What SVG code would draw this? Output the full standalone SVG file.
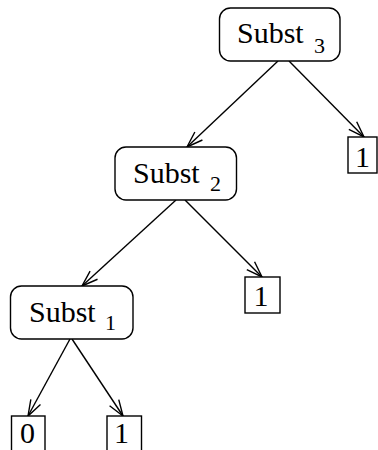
<svg xmlns="http://www.w3.org/2000/svg" width="378" height="450" viewBox="0 0 378 450">
<style>
.node{fill:#fff;stroke:#000;stroke-width:1.4}
.t{font-family:"Liberation Serif","Times New Roman",serif;font-size:30px;fill:#000}
.s{font-family:"Liberation Serif","Times New Roman",serif;font-size:22px;fill:#000}
.e{stroke:#000;stroke-width:1.4;fill:none;marker-end:url(#ah)}
</style>
<defs>
<marker id="ah" markerUnits="userSpaceOnUse" markerWidth="20" markerHeight="14" viewBox="-16 -7 18 14" refX="0" refY="0" orient="auto">
<path d="M-16,-5.5 L0,0 L-16,5.5" fill="none" stroke="#000" stroke-width="1.4"/>
</marker>
</defs>
<g id="connectors">
<line class="e" x1="278" y1="61" x2="187" y2="147"/>
<line class="e" x1="289" y1="61" x2="364" y2="137"/>
<line class="e" x1="176" y1="200" x2="82" y2="286"/>
<line class="e" x1="185" y1="200" x2="262" y2="277"/>
<line class="e" x1="70" y1="339" x2="28" y2="416"/>
<line class="e" x1="72" y1="339" x2="123" y2="416"/>
</g>
<g id="subst3">
<rect class="node" x="219.5" y="8" width="120.5" height="53" rx="11"/>
<text class="t" x="237" y="43">Subst</text>
<text class="s" x="314" y="52.5">3</text>
</g>
<g id="leaf3">
<rect class="node" x="348" y="137" width="29" height="36"/>
<text class="t" x="355" y="167">1</text>
</g>
<g id="subst2">
<rect class="node" x="115" y="147" width="121.5" height="53" rx="11"/>
<text class="t" x="133" y="182.5">Subst</text>
<text class="s" x="210" y="191">2</text>
</g>
<g id="leaf2">
<rect class="node" x="245" y="277" width="35" height="36"/>
<text class="t" x="253.5" y="305.5">1</text>
</g>
<g id="subst1">
<rect class="node" x="10.5" y="286" width="122.5" height="53" rx="11"/>
<text class="t" x="29" y="321.5">Subst</text>
<text class="s" x="105" y="330">1</text>
</g>
<g id="leaf0">
<rect class="node" x="11.5" y="416" width="33.5" height="40"/>
<text class="t" x="20" y="443">0</text>
</g>
<g id="leaf1">
<rect class="node" x="107" y="416" width="34.5" height="40"/>
<text class="t" x="114" y="443">1</text>
</g>
</svg>
